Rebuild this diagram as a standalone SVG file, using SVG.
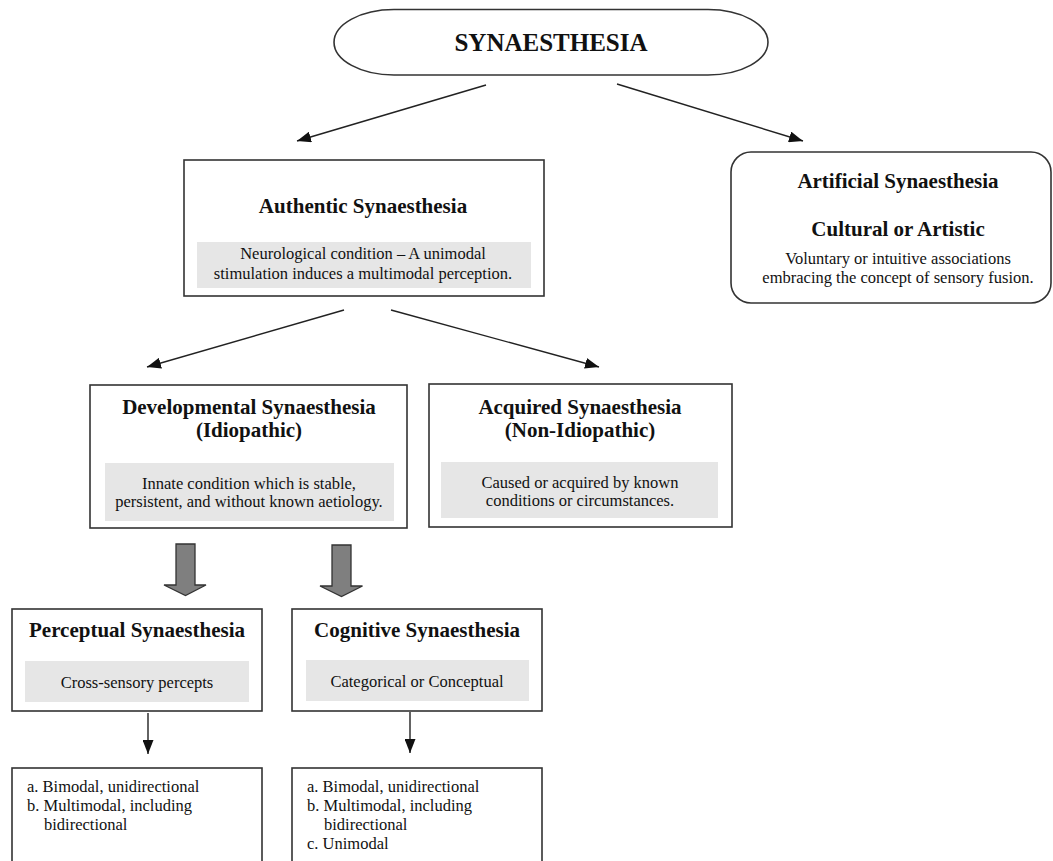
<svg xmlns="http://www.w3.org/2000/svg" width="1053" height="861" viewBox="0 0 1053 861">
<defs>
<style>
text{font-family:"Liberation Serif","Times New Roman",serif;fill:#111;}
.t{font-weight:bold;font-size:21px;text-anchor:middle;}
.b{font-size:16.5px;text-anchor:middle;}
.l{font-size:16.5px;}
.box{fill:#fff;stroke:#333;stroke-width:1.6;}
.grey{fill:#e6e6e6;stroke:none;}
.conn{stroke:#222;stroke-width:1.4;fill:none;marker-end:url(#ah);}
.thick{fill:#7f7f7f;stroke:#333;stroke-width:1.3;}
</style>
<marker id="ah" markerUnits="userSpaceOnUse" markerWidth="14" markerHeight="11" refX="14" refY="5.5" orient="auto">
<path d="M0,0 L14,5.5 L0,11 z" fill="#111"/>
</marker>
</defs>
<rect width="1053" height="861" fill="#fff"/>

<g id="connectors">
<line class="conn" x1="486" y1="85" x2="297" y2="141"/>
<line class="conn" x1="617" y1="84" x2="803" y2="141"/>
<line class="conn" x1="344" y1="310" x2="147" y2="367"/>
<line class="conn" x1="391" y1="310" x2="599" y2="367"/>
<line class="conn" x1="148" y1="713" x2="148" y2="754"/>
<line class="conn" x1="410" y1="712" x2="410" y2="753"/>
<path class="thick" d="M176,544 H195 V585 H206 L185.5,595.5 L164,585 H176 Z"/>
<path class="thick" d="M332,545 H351 V586 H362.5 L341.5,596.5 L320,586 H332 Z"/>
</g>

<g id="synaesthesia">
<path class="box" d="M394,9.5 H708 A60,32.75 0 0 1 708,75 H394 A60,32.75 0 0 1 394,9.5 Z"/>
<text x="551" y="51" style="font-weight:bold;font-size:25px;text-anchor:middle">SYNAESTHESIA</text>
</g>

<g id="authentic">
<rect class="box" x="184" y="160" width="360" height="136"/>
<text class="t" x="363" y="213">Authentic Synaesthesia</text>
<rect class="grey" x="197" y="242" width="334" height="46"/>
<text class="b" x="363" y="258.5">Neurological condition – A unimodal</text>
<text class="b" x="363" y="279">stimulation induces a multimodal perception.</text>
</g>

<g id="artificial">
<rect class="box" x="731" y="152" width="320" height="151" rx="20" ry="20"/>
<text class="t" x="898" y="188">Artificial Synaesthesia</text>
<text class="t" x="898" y="236">Cultural or Artistic</text>
<text class="b" x="898" y="264">Voluntary or intuitive associations</text>
<text class="b" x="898" y="283">embracing the concept of sensory fusion.</text>
</g>

<g id="developmental">
<rect class="box" x="90" y="385" width="317" height="143"/>
<text class="t" x="249" y="414">Developmental Synaesthesia</text>
<text class="t" x="249" y="437">(Idiopathic)</text>
<rect class="grey" x="105" y="463" width="289" height="58"/>
<text class="b" x="249" y="489">Innate condition which is stable,</text>
<text class="b" x="249" y="507">persistent, and without known aetiology.</text>
</g>

<g id="acquired">
<rect class="box" x="429" y="384" width="303" height="143"/>
<text class="t" x="580" y="414">Acquired Synaesthesia</text>
<text class="t" x="580" y="437">(Non-Idiopathic)</text>
<rect class="grey" x="441" y="462" width="277" height="56"/>
<text class="b" x="580" y="488">Caused or acquired by known</text>
<text class="b" x="580" y="506">conditions or circumstances.</text>
</g>

<g id="perceptual">
<rect class="box" x="12" y="609" width="250" height="102"/>
<text class="t" x="137" y="637">Perceptual Synaesthesia</text>
<rect class="grey" x="25" y="661" width="224" height="41"/>
<text class="b" x="137" y="687.5">Cross-sensory percepts</text>
</g>

<g id="cognitive">
<rect class="box" x="292" y="609" width="250" height="102"/>
<text class="t" x="417" y="637">Cognitive Synaesthesia</text>
<rect class="grey" x="306" y="660" width="223" height="41"/>
<text class="b" x="417" y="687">Categorical or Conceptual</text>
</g>

<g id="perceptual-types">
<rect class="box" x="12" y="768" width="250" height="110"/>
<text class="l" x="27" y="792">a. Bimodal, unidirectional</text>
<text class="l" x="27" y="811">b. Multimodal, including</text>
<text class="l" x="44" y="830">bidirectional</text>
</g>

<g id="cognitive-types">
<rect class="box" x="292" y="768" width="250" height="110"/>
<text class="l" x="307" y="792">a. Bimodal, unidirectional</text>
<text class="l" x="307" y="811">b. Multimodal, including</text>
<text class="l" x="324" y="830">bidirectional</text>
<text class="l" x="307" y="849">c. Unimodal</text>
</g>
</svg>
